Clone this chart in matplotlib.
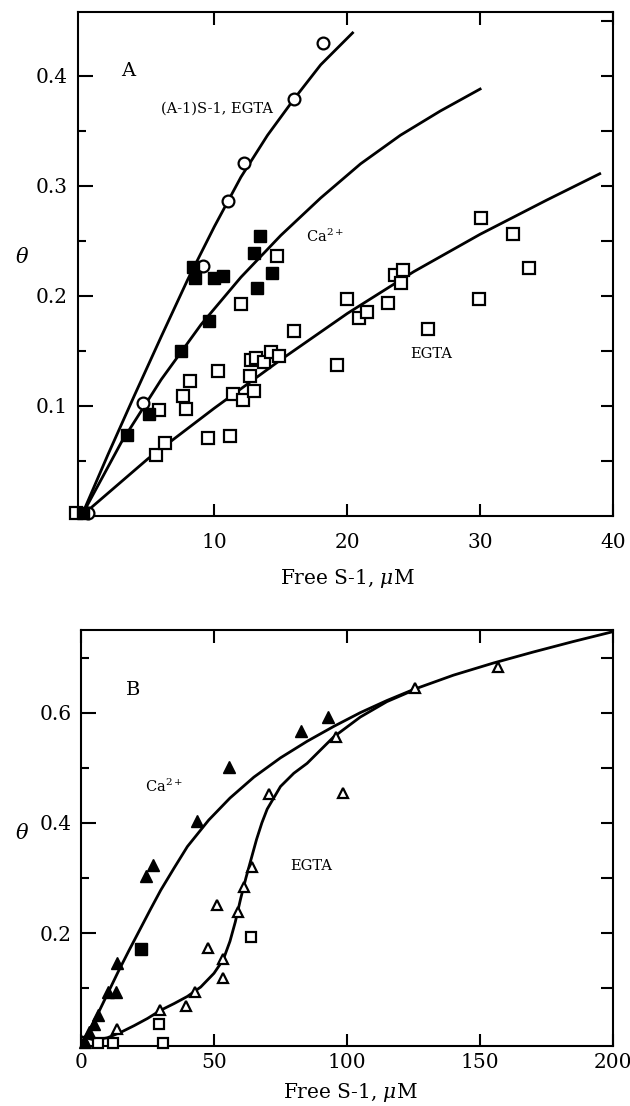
import matplotlib
matplotlib.use("Agg")
import matplotlib.pyplot as plt
import numpy as np

plt.rcParams['font.family'] = ['DejaVu Serif']
plt.rcParams['mathtext.fontset'] = 'dejavuserif'

# ---------------- Panel A data ----------------
a1_x = [0.5, 4.65, 9.15, 11.0, 12.2, 16.0, 18.2]
a1_y = [0.003, 0.103, 0.227, 0.286, 0.321, 0.379, 0.430]

aca_x = [0.1, 3.4, 5.1, 7.5, 8.4, 8.55, 9.6, 10.0, 10.65, 13.0, 13.2, 13.4, 14.3]
aca_y = [0.003, 0.074, 0.093, 0.150, 0.226, 0.216, 0.177, 0.216, 0.218, 0.239, 0.207, 0.254, 0.221]

aeg_x = [-0.4, 5.6, 5.8, 6.3, 7.65, 7.9, 8.2, 9.5, 10.3, 11.2, 11.4, 12.0, 12.15, 12.7,
         12.75, 13.0, 13.1, 13.7, 14.25, 14.7, 14.9, 16.0, 19.2, 20.0, 20.9, 21.45, 23.1,
         23.6, 24.05, 24.2, 26.1, 29.9, 30.1, 32.5, 33.7]
aeg_y = [0.003, 0.055, 0.096, 0.066, 0.109, 0.097, 0.123, 0.071, 0.132, 0.073, 0.111, 0.193,
         0.105, 0.127, 0.142, 0.114, 0.144, 0.140, 0.149, 0.236, 0.145, 0.168, 0.137, 0.197,
         0.180, 0.185, 0.194, 0.219, 0.212, 0.224, 0.170, 0.197, 0.271, 0.256, 0.225]

# fitted curves
ca1_cx = [0, 2, 4, 6, 8, 10, 12, 14, 16, 18, 20.4]
ca1_cy = [0, 0.056, 0.110, 0.163, 0.215, 0.263, 0.308, 0.346, 0.379, 0.410, 0.439]
cca_cx = [0, 3, 6, 9, 12, 15, 18, 21, 24, 27, 30]
cca_cy = [0, 0.067, 0.124, 0.174, 0.217, 0.255, 0.289, 0.320, 0.346, 0.368, 0.388]
ceg_cx = [0, 5, 10, 15, 20, 25, 30, 35, 39]
ceg_cy = [0, 0.052, 0.098, 0.142, 0.184, 0.222, 0.256, 0.287, 0.311]

# ---------------- Panel B data ----------------
bca_x = [1.5, 3.0, 5.0, 6.4, 10.1, 13.2, 13.6, 24.4, 27.1, 43.6, 55.6, 82.7, 92.9]
bca_y = [0.002, 0.020, 0.035, 0.051, 0.093, 0.093, 0.145, 0.304, 0.324, 0.404, 0.502, 0.567, 0.593]
bca_sq_x = [22.6]
bca_sq_y = [0.171]

beg_x = [13.5, 29.8, 39.6, 42.9, 47.7, 51.2, 53.2, 53.4, 59.0, 61.3, 64.3, 70.7, 95.8, 98.6, 125.6, 156.8]
beg_y = [0.025, 0.060, 0.068, 0.093, 0.172, 0.251, 0.119, 0.153, 0.238, 0.284, 0.320, 0.453, 0.556, 0.455, 0.644, 0.682]
beg_sq_x = [6.5, 12.0, 29.5, 31.0, 63.8]
beg_sq_y = [0.0, 0.0, 0.035, 0.0, 0.192]

bca_cx = [0, 3, 6, 10, 14, 18, 22, 26, 30, 35, 40, 48, 56, 65, 75, 85, 95, 105, 115, 125, 140, 155, 170, 185, 200]
bca_cy = [0, 0.022, 0.050, 0.090, 0.130, 0.168, 0.205, 0.242, 0.278, 0.318, 0.357, 0.405, 0.445, 0.483,
          0.518, 0.548, 0.575, 0.600, 0.622, 0.642, 0.668, 0.690, 0.710, 0.729, 0.747]
beg_cx = [0, 5, 10, 15, 20, 25, 30, 35, 40, 45, 50, 53.5, 56, 58, 60, 62, 64, 66, 68, 70, 75, 80, 85, 95, 105, 115, 125.6]
beg_cy = [0.012, 0.006, 0.010, 0.020, 0.032, 0.045, 0.060, 0.072, 0.085, 0.102, 0.127, 0.152, 0.185, 0.220,
          0.262, 0.300, 0.335, 0.370, 0.400, 0.425, 0.466, 0.490, 0.508, 0.556, 0.592, 0.620, 0.642]

W, H = 630, 1106
fig = plt.figure(figsize=(W / 100, H / 100), dpi=100)

LW = 2.0
TICKFS = 14.5

def style_axes(ax, xmaj, ymaj, ymin, yright, xpad):
    for s in ax.spines.values():
        s.set_linewidth(1.5)
    ax.set_xticks(xmaj)
    ax.set_yticks(ymaj)
    ax.set_yticks(ymin, minor=True)
    ax.tick_params(axis='both', which='both', direction='in', width=1.5, labelsize=TICKFS)
    ax.tick_params(axis='y', which='major', length=11, pad=7, right=False)
    ax.tick_params(axis='y', which='minor', length=6, right=False)
    ax.tick_params(axis='x', which='major', length=9, pad=xpad, top=True)
    # right side ticks, all same length
    ax2 = ax.twinx()
    ax2.set_ylim(ax.get_ylim())
    ax2.set_yticks(yright)
    ax2.tick_params(axis='y', direction='in', length=9, width=1.5, labelright=False)
    for s in ax2.spines.values():
        s.set_visible(False)
    return ax2

def open_mk(ax, x, y, marker, ms):
    ax.plot(x, y, linestyle='none', marker=marker, ms=ms, mfc='white', mec='black',
            mew=1.6, zorder=5, clip_on=False)

def fill_mk(ax, x, y, marker, ms):
    ax.plot(x, y, linestyle='none', marker=marker, ms=ms, mfc='black', mec='black',
            mew=1.0, zorder=6, clip_on=False)

# ---------------- Panel A ----------------
axA = fig.add_axes([77.5 / W, 1 - 516 / H, 535.5 / W, 504 / H])
axA.set_xlim(-0.3, 40)
axA.set_ylim(0, 0.458)
axA.plot(ca1_cx, ca1_cy, color='black', lw=LW, zorder=3)
axA.plot(cca_cx, cca_cy, color='black', lw=LW, zorder=3)
axA.plot(ceg_cx, ceg_cy, color='black', lw=LW, zorder=3)
open_mk(axA, aeg_x, aeg_y, 's', 9.0)
fill_mk(axA, aca_x, aca_y, 's', 9.0)
open_mk(axA, a1_x, a1_y, 'o', 8.5)
style_axes(axA, [10, 20, 30, 40], [0.1, 0.2, 0.3, 0.4], [0.05, 0.15, 0.25, 0.35],
           [0.05, 0.1, 0.15, 0.2, 0.25, 0.3, 0.35, 0.4, 0.45], 12)
axA.set_xticklabels(['10', '20', '30', '40'])
axA.set_yticklabels(['0.1', '0.2', '0.3', '0.4'])
axA.text(3.5, 0.404, 'A', fontsize=14, ha='center', va='center')
axA.text(10.2, 0.370, '(A-1)S-1, EGTA', fontsize=10.5, ha='center', va='center')
axA.text(18.3, 0.254, 'Ca$^{2+}$', fontsize=10.5, ha='center', va='center')
axA.text(26.3, 0.147, 'EGTA', fontsize=10.5, ha='center', va='center')
fig.text(22 / W, 1 - 257 / H, r'$\theta$', fontsize=15, ha='center', va='center')
fig.text(347 / W, 1 - 578 / H, r'Free S-1, $\mu$M', fontsize=14.5, ha='center', va='center')

# ---------------- Panel B ----------------
axB = fig.add_axes([81 / W, 1 - 1046 / H, 532 / W, 416 / H])
axB.set_xlim(0, 200)
axB.set_ylim(-0.005, 0.75)
axB.plot(bca_cx, bca_cy, color='black', lw=LW, zorder=3)
axB.plot(beg_cx, beg_cy, color='black', lw=LW, zorder=3)
open_mk(axB, beg_sq_x, beg_sq_y, 's', 7.5)
open_mk(axB, beg_x, beg_y, '^', 6.5)
fill_mk(axB, bca_sq_x, bca_sq_y, 's', 8.5)
fill_mk(axB, bca_x, bca_y, '^', 8.5)
style_axes(axB, [0, 50, 100, 150, 200], [0.2, 0.4, 0.6], [0.1, 0.3, 0.5, 0.7],
           [0.1, 0.2, 0.3, 0.4, 0.5, 0.6, 0.7], 5)
axB.set_xticklabels(['0', '50', '100', '150', '200'])
axB.set_yticklabels(['0.2', '0.4', '0.6'])
axB.text(19.5, 0.642, 'B', fontsize=14, ha='center', va='center')
axB.text(31.2, 0.467, 'Ca$^{2+}$', fontsize=10.5, ha='center', va='center')
axB.text(86.5, 0.322, 'EGTA', fontsize=10.5, ha='center', va='center')
fig.text(22 / W, 1 - 833 / H, r'$\theta$', fontsize=15, ha='center', va='center')
fig.text(350 / W, 1 - 1093 / H, r'Free S-1, $\mu$M', fontsize=14.5, ha='center', va='center')

fig.savefig('out.png', dpi=100)
